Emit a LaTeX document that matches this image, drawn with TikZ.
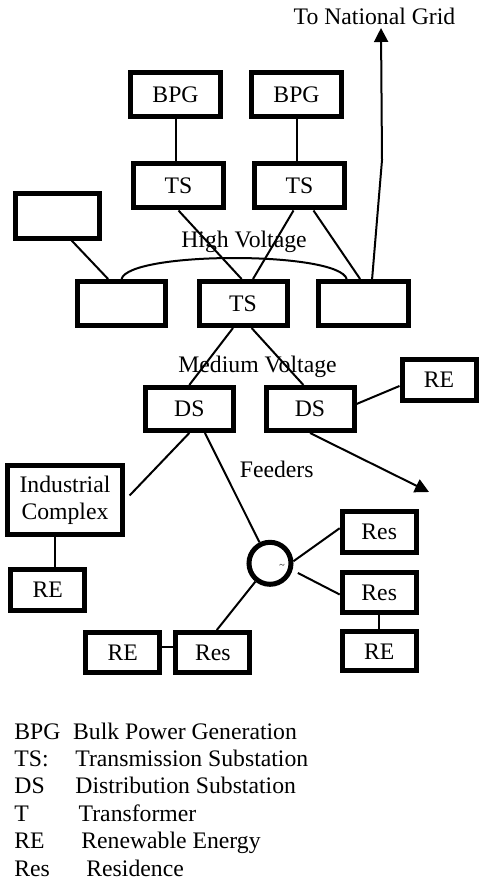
\documentclass[tikz,border=0pt]{standalone}
\usepackage{fontspec}
\setmainfont{Liberation Serif}
\usetikzlibrary{arrows.meta}

\begin{document}
\begin{tikzpicture}[x=0.5pt, y=-0.5pt,
    every node/.style={font=\fontsize{11.85}{13.8}\selectfont, inner sep=0pt},
    unit/.style={draw, line width=2.5pt, minimum width=45pt, minimum height=22pt},
    small/.style={draw, line width=2.5pt, minimum width=37pt, minimum height=20.5pt},
    link/.style={line width=1pt},
    arrowlink/.style={line width=1pt, -{Triangle[length=7pt, width=7pt]}}]

    \useasboundingbox (0,0) rectangle (479,882);

    \node[anchor=base] (grid) at (374.5,25) {To National Grid};

    \node[unit] (bpgA) at (175.5,94.5) {BPG};
    \node[unit] (bpgB) at (296.5,94.5) {BPG};

    \node[unit] (tsA) at (178.5,186) {TS};
    \node[unit] (tsB) at (299.5,186) {TS};

    \node[unit, minimum width=42pt] (blankA) at (57,216) {};

    \node[unit, minimum width=44pt] (blankB) at (121.5,303.5) {};
    \node[unit, minimum width=44pt] (tsC) at (243,303.5) {TS};
    \node[unit] (blankC) at (363.5,303.5) {};

    \node[anchor=base] (hv) at (244,248) {High Voltage};
    \node[anchor=base] (mv) at (257.5,372.7) {Medium Voltage};
    \node[anchor=base] (feeders) at (276.7,477.3) {Feeders};

    \node[unit, minimum width=44pt, minimum height=21.5pt] (dsA) at (189.3,409) {DS};
    \node[unit, minimum width=44pt, minimum height=21.5pt] (dsB) at (310,409) {DS};
    \node[small] (reA) at (439,380) {RE};

    \node[draw, line width=2.5pt, minimum width=57.5pt, minimum height=34.5pt, align=center] (ic) at (65,500.3) {Industrial\\Complex};
    \node[small] (reB) at (47.8,589.5) {RE};

    \node[circle, draw, line width=2.5pt, minimum size=21pt] (feed) at (270,563.3) {};
    \node[font=\fontsize{5}{5}\selectfont] (tilde) at (282,566) {\textasciitilde};

    \node[small] (resA) at (379.2,532) {Res};
    \node[small, minimum height=20pt] (resB) at (379.2,592.5) {Res};
    \node[small, minimum height=19.5pt] (reC) at (379.2,651.3) {RE};
    \node[small, minimum height=20pt] (resC) at (212.8,652.5) {Res};
    \node[small, minimum height=20pt] (reD) at (122.7,652.5) {RE};

    \coordinate (gridBend) at (382,160);
    \coordinate (gridTip) at (381,28);
    \coordinate (feedTip) at (429,492);

    % high voltage side
    \draw[link] (bpgA.south) -- (bpgA.south |- tsA.north);
    \draw[link] (bpgB.south) -- (bpgB.south |- tsB.north);
    \draw[link] (tsA.south) -- ([xshift=-0.7pt]tsC.north);
    \draw[link] ([xshift=-3pt]tsB.south) -- ([xshift=5pt]tsC.north);
    \draw[link] ([xshift=7pt]tsB.south) -- ([xshift=-1.7pt]blankC.north);
    \draw[link] ([xshift=7.3pt]blankA.south) -- ([xshift=-6.7pt]blankB.north);
    \draw[link] (blankB.north) .. controls +(8,-28) and +(-8,-28) .. ([xshift=-8.4pt]blankC.north);
    \draw[arrowlink] ([xshift=4.3pt]blankC.north) -- (gridBend) -- (gridTip);

    % medium voltage side
    \draw[link] ([xshift=-5pt]tsC.south) -- (dsA.north);
    \draw[link] ([xshift=4.3pt]tsC.south) -- ([xshift=-3.3pt]dsB.north);
    \draw[link] ([yshift=2.5pt]dsB.east) -- ([yshift=-3pt]reA.west);
    \draw[arrowlink] (dsB.south) -- (feedTip);

    % feeders
    \draw[link, shorten >=3.3pt] (dsA.south) -- (ic.east);
    \draw[link] ([xshift=7.8pt]dsA.south) -- (feed);
    \draw[link] ([xshift=-5pt]ic.south) -- ([xshift=-5pt]ic.south |- reB.north);
    \draw[link] (feed.5) -- ([yshift=1.9pt]resA.west);
    \draw[link, shorten <=3pt] (feed.-17) -- ([yshift=-1pt]resB.west);
    \draw[link] (feed) -- ([xshift=2pt]resC.north);
    \draw[link] (resB.south) -- (reC.north);
    \draw[link] ([yshift=3pt]reD.east) -- ([yshift=3pt]resC.west);

    % legend
    \node[anchor=base west] (kBPG) at (14,739.3) {BPG};
    \node[anchor=base west] (tBPG) at (72.7,739.3) {Bulk Power Generation};
    \node[anchor=base west] (kTS) at (14,766) {TS:};
    \node[anchor=base west] (tTS) at (75,766) {Transmission Substation};
    \node[anchor=base west] (kDS) at (14,793.7) {DS};
    \node[anchor=base west] (tDS) at (75,793.7) {Distribution Substation};
    \node[anchor=base west] (kT) at (14,821.7) {T};
    \node[anchor=base west] (tT) at (78.3,821.7) {Transformer};
    \node[anchor=base west] (kRE) at (14,848.3) {RE};
    \node[anchor=base west] (tRE) at (81,848.3) {Renewable Energy};
    \node[anchor=base west] (kRes) at (14,876) {Res};
    \node[anchor=base west] (tRes) at (86,876) {Residence};

\end{tikzpicture}
\end{document}
